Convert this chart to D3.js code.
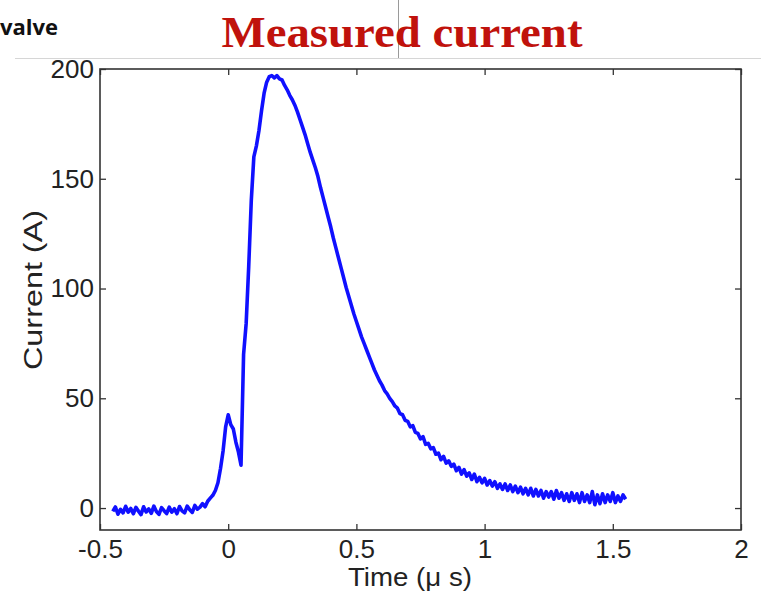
<!DOCTYPE html>
<html>
<head>
<meta charset="utf-8">
<script src="https://cdn.jsdelivr.net/npm/d3@7"></script>
<style>
  html, body { margin: 0; padding: 0; background: #fff; }
  svg { display: block; }
</style>
</head>
<body>
<svg id="chart" width="761" height="599"></svg>
<script>
// Probe current trace: sampled every 10 ns starting at -0.45 µs
const tStart = -0.45;
const tStep = 0.01;
const current = [
  -1.5, 0.5, -2.8, -0.6, -2.2, 0.8, -1.9, -0.2, -2.6, 0.3,
  -1.4, -3.0, 0.6, -1.8, -0.4, -2.4, 0.9, -1.6, -2.9, 0.2,
  -1.2, -2.5, 0.4, -1.9, -0.3, -2.6, 0.7, -1.3, -2.2, 0.9,
  -0.8, -2.0, 1.2, -0.5, 0.4, 2.0, 0.6, 3.1, 4.5, 5.8,
  8.0, 11.5, 18.0, 26.0, 37.0, 42.5, 38.0, 36.0, 30.0, 25.5,
  19.5, 70, 84, 110, 140, 160, 165, 172, 181, 189,
  194, 196.5, 197, 196, 197, 195.5, 195, 192.5, 190.5, 188,
  186, 183.5, 180.5, 177, 173.5, 170, 166, 162, 158.5, 155,
  151, 146, 141.5, 137, 132.5, 128, 123, 118.5, 114, 109.5,
  105, 100.5, 96.5, 92.5, 88.5, 85, 81.5, 78, 75, 72,
  69, 66, 63, 60.5, 58, 56, 53.5, 52, 50, 48.5,
  46.5, 45.5, 43, 42.5, 40, 39.5, 37, 37.5, 34.5, 34,
  31.5, 32.5, 29, 29.5, 27, 27.5, 24.5, 25, 22, 23.5,
  20.5, 21.5, 19, 20, 17, 18.5, 15.5, 17.5, 14.5, 16,
  13, 15.5, 12, 14, 11.5, 13.5, 10.5, 12.5, 10, 12,
  9, 11, 8.5, 11, 8, 10.5, 7.5, 10, 7, 9.5,
  6.5, 9, 6, 9, 5.5, 8.5, 5.5, 8, 4.5, 7.5,
  5, 7.5, 4, 8, 4.5, 7, 3.5, 6.5, 3, 7,
  3.5, 6.5, 2.5, 7, 3, 6, 2.5, 7.5, 1.5, 6,
  2, 6.5, 2.5, 6, 3, 7, 2.5, 5.5, 3, 6,
  4
];

const xDomain = [-0.5, 2];
const yDomain = [-10, 200];
const xTicks = [-0.5, 0, 0.5, 1, 1.5, 2];
const yTicks = [0, 50, 100, 150, 200];

const titleText = "Measured current";
const cornerText = "valve";
const xLabel = "Time (\u03bc s)";
const yLabel = "Current (A)";

const svg = d3.select("#chart");
const plot = { left: 100, right: 741, top: 69, bottom: 530 };

const x = d3.scaleLinear().domain(xDomain).range([plot.left, plot.right]);
const y = d3.scaleLinear().domain(yDomain).range([plot.bottom, plot.top]);

// slide header decorations
svg.append("line")
  .attr("x1", 15).attr("x2", 761).attr("y1", 58.5).attr("y2", 58.5)
  .attr("stroke", "#d6d6d6").attr("stroke-width", 1);
svg.append("line")
  .attr("x1", 398.5).attr("x2", 398.5).attr("y1", 0).attr("y2", 58)
  .attr("stroke", "#9a9a9a").attr("stroke-width", 1);

svg.append("text")
  .attr("x", 0).attr("y", 35)
  .attr("font-family", "'Open Sans', 'Liberation Sans', sans-serif")
  .attr("font-weight", "bold").attr("font-size", 22)
  .attr("fill", "#111")
  .text(cornerText);

svg.append("text")
  .attr("x", 402).attr("y", 47)
  .attr("text-anchor", "middle")
  .attr("font-family", "'Liberation Serif', 'DejaVu Serif', serif")
  .attr("font-weight", "bold").attr("font-size", 44)
  .attr("fill", "#c0120c")
  .attr("textLength", 361).attr("lengthAdjust", "spacingAndGlyphs")
  .text(titleText);

// axes box with inward ticks on all four sides
const tickFont = "'Liberation Sans', Arial, sans-serif";
const axisColor = "#333";
const plain = d => String(d);

const gB = svg.append("g").attr("transform", `translate(0,${plot.bottom})`)
  .call(d3.axisBottom(x).tickValues(xTicks).tickSize(-6).tickPadding(10).tickFormat(plain));
const gT = svg.append("g").attr("transform", `translate(0,${plot.top})`)
  .call(d3.axisTop(x).tickValues(xTicks).tickSize(-6).tickFormat(""));
const gL = svg.append("g").attr("transform", `translate(${plot.left},0)`)
  .call(d3.axisLeft(y).tickValues(yTicks).tickSize(-6).tickPadding(6).tickFormat(plain));
const gR = svg.append("g").attr("transform", `translate(${plot.right},0)`)
  .call(d3.axisRight(y).tickValues(yTicks).tickSize(-6).tickFormat(""));

[gB, gT, gL, gR].forEach(g => {
  g.select(".domain").remove();
  g.selectAll(".tick line").attr("stroke", axisColor).attr("stroke-width", 1.3);
  g.selectAll(".tick text")
    .attr("font-family", tickFont).attr("font-size", 26).attr("fill", "#222");
});

svg.append("rect")
  .attr("x", plot.left).attr("y", plot.top)
  .attr("width", plot.right - plot.left).attr("height", plot.bottom - plot.top)
  .attr("fill", "none").attr("stroke", axisColor).attr("stroke-width", 1.6);

// measured trace
const line = d3.line()
  .x((d, i) => x(tStart + i * tStep))
  .y(d => y(d));

svg.append("path")
  .datum(current)
  .attr("d", line)
  .attr("fill", "none")
  .attr("stroke", "#1010ff")
  .attr("stroke-width", 3.6)
  .attr("stroke-linejoin", "round");

// axis titles
svg.append("text")
  .attr("x", 410).attr("y", 586)
  .attr("text-anchor", "middle")
  .attr("font-family", tickFont).attr("font-size", 25).attr("fill", "#222")
  .attr("textLength", 124).attr("lengthAdjust", "spacingAndGlyphs")
  .text(xLabel);

svg.append("text")
  .attr("transform", "translate(42,290) rotate(-90)")
  .attr("text-anchor", "middle")
  .attr("font-family", tickFont).attr("font-size", 25).attr("fill", "#222")
  .attr("textLength", 160).attr("lengthAdjust", "spacingAndGlyphs")
  .text(yLabel);
</script>
</body>
</html>
